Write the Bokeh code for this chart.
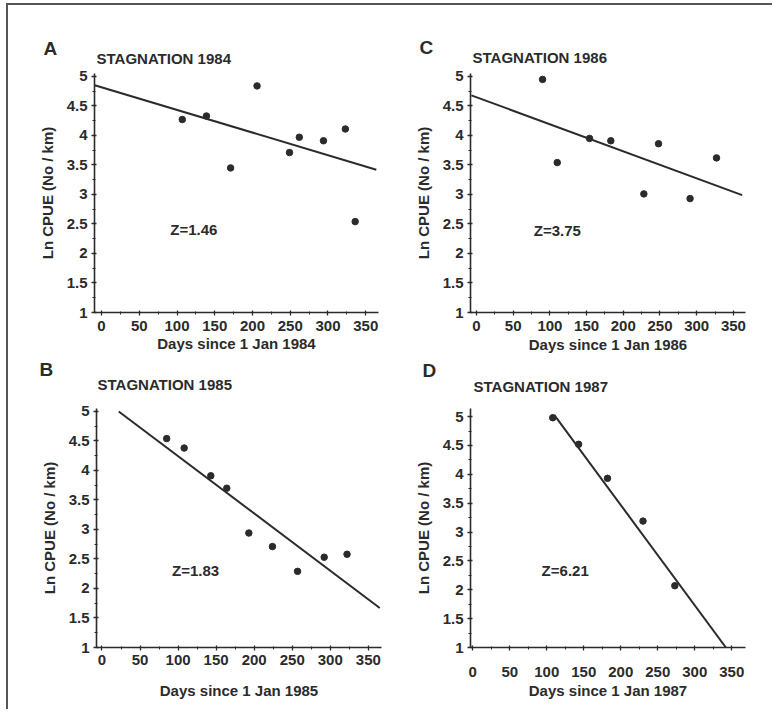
from bokeh.plotting import figure
from bokeh.models import Range1d, SingleIntervalTicker, Label
from bokeh.layouts import column, row
from bokeh.embed import file_html
from bokeh.resources import INLINE

# ---------------- data ----------------
# Panel A : stagnation 1984
days_a = [107, 139, 171, 206, 249, 262, 294, 323, 336]
lncpue_a = [4.27, 4.33, 3.45, 4.84, 3.71, 3.97, 3.91, 4.11, 2.54]
fit_days_a = [-9, 364]
fit_lncpue_a = [4.85, 3.42]

# Panel C : stagnation 1986
days_c = [90, 110, 154, 183, 228, 248, 291, 327]
lncpue_c = [4.95, 3.54, 3.95, 3.91, 3.01, 3.86, 2.93, 3.62]
fit_days_c = [-7, 362]
fit_lncpue_c = [4.68, 2.99]

# Panel B : stagnation 1985
days_b = [85, 108, 143, 164, 193, 224, 257, 292, 322]
lncpue_b = [4.54, 4.38, 3.91, 3.70, 2.94, 2.71, 2.29, 2.53, 2.58]
fit_days_b = [22, 365]
fit_lncpue_b = [5.0, 1.67]

# Panel D : stagnation 1987
days_d = [108, 143, 182, 230, 273]
lncpue_d = [4.98, 4.52, 3.93, 3.19, 2.07]
fit_days_d = [110, 342]
fit_lncpue_d = [5.03, 1.0]

titles = ["STAGNATION 1984", "STAGNATION 1986", "STAGNATION 1985", "STAGNATION 1987"]
letters = ["A", "C", "B", "D"]
z_texts = ["Z=1.46", "Z=3.75", "Z=1.83", "Z=6.21"]
z_pos = [(91, 2.40), (78, 2.39), (92, 2.31), (93, 2.34)]
x_titles = ["Days since 1 Jan 1984", "Days since 1 Jan 1986",
            "Days since 1 Jan 1985", "Days since 1 Jan 1987"]
y_title = "Ln CPUE (No / km)"

INK = "#2b2b2b"
FONT = "Liberation Sans"


def panel(days, vals, fx, fy, title, letter, ztxt, zxy, xtitle,
          w, h, bl, br, bt, bb, xr, yr, title_xy, letter_xy,
          xlab_standoff, xtitle_standoff):
    p = figure(width=w, height=h, output_backend="svg", toolbar_location=None,
               x_range=Range1d(*xr), y_range=Range1d(*yr),
               min_border_left=bl, min_border_right=br,
               min_border_top=bt, min_border_bottom=bb,
               background_fill_color="white", border_fill_color="white")
    p.outline_line_color = None
    p.grid.visible = False
    p.xaxis.ticker = SingleIntervalTicker(interval=50, num_minor_ticks=2)
    p.yaxis.ticker = SingleIntervalTicker(interval=0.5, num_minor_ticks=2)
    for ax in (p.xaxis, p.yaxis):
        ax.axis_line_color = INK
        ax.axis_line_width = 1.6
        ax.major_tick_line_color = INK
        ax.minor_tick_line_color = INK
        ax.major_tick_line_width = 1.3
        ax.minor_tick_line_width = 1.0
        ax.major_tick_in = 2
        ax.major_tick_out = 3
        ax.minor_tick_in = 1
        ax.minor_tick_out = 2
        ax.major_label_text_font = FONT
        ax.major_label_text_font_style = "bold"
        ax.major_label_text_font_size = "15px"
        ax.major_label_text_color = INK
        ax.axis_label_text_font = FONT
        ax.axis_label_text_font_style = "bold"
        ax.axis_label_text_color = INK
    p.xaxis.axis_label = xtitle
    p.xaxis.axis_label_text_font_size = "15px"
    p.xaxis.major_label_standoff = xlab_standoff
    p.xaxis.axis_label_standoff = xtitle_standoff
    p.yaxis.axis_label = y_title
    p.yaxis.axis_label_text_font_size = "15px"
    p.yaxis.major_label_standoff = 4
    p.yaxis.axis_label_standoff = 8

    p.line(fx, fy, line_color=INK, line_width=2)
    p.scatter(days, vals, size=6.5, color=INK)

    p.add_layout(Label(x=zxy[0], y=zxy[1], text=ztxt, text_font=FONT,
                       text_font_style="bold", text_font_size="15px",
                       text_color=INK, text_baseline="middle", text_align="left"))
    p.add_layout(Label(x=title_xy[0], y=title_xy[1], x_units="screen", y_units="screen",
                       text=title, text_font=FONT, text_font_style="bold",
                       text_font_size="15px", text_color=INK,
                       text_baseline="middle", text_align="left"), "above")
    p.add_layout(Label(x=letter_xy[0], y=letter_xy[1], x_units="screen", y_units="screen",
                       text=letter, text_font=FONT, text_font_style="bold",
                       text_font_size="19px", text_color=INK,
                       text_baseline="middle", text_align="left"), "above")
    return p


pA = panel(days_a, lncpue_a, fit_days_a, fit_lncpue_a, titles[0], letters[0],
           z_texts[0], z_pos[0], x_titles[0],
           382, 353, 86, 12, 68, 46, (-9.3, 366.9), (1, 5.05),
           (2, 15), (-51, 8), 5, 1)
pC = panel(days_c, lncpue_c, fit_days_c, fit_lncpue_c, titles[1], letters[1],
           z_texts[1], z_pos[1], x_titles[1],
           382, 353, 80, 27, 67, 46, (-8.2, 366.5), (1, 5.05),
           (2, 16), (-51, 9), 5, 2)
pB = panel(days_b, lncpue_b, fit_days_b, fit_lncpue_b, titles[2], letters[2],
           z_texts[2], z_pos[2], x_titles[2],
           382, 351, 88, 9, 49, 62, (-7.2, 367.3), (1, 5.05),
           (1, 24), (-57, 22), 4, 14)
pD = panel(days_d, lncpue_d, fit_days_d, fit_lncpue_d, titles[3], letters[3],
           z_texts[3], z_pos[3], x_titles[3],
           382, 351, 80, 27, 50, 61, (-3.1, 368.5), (1, 5.14),
           (3, 22), (-48, 21), 16, 2)

layout = column(row(pA, pC), row(pB, pD), margin=(3, 0, 0, 6),
                styles={"border-top": "2px solid #555", "border-left": "2px solid #555"})

open("out.html", "w").write(file_html(layout, INLINE))
